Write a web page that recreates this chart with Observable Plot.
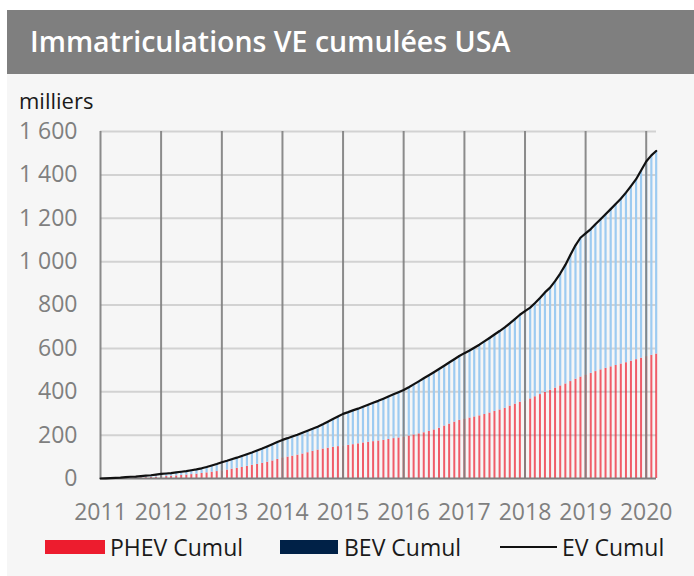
<!DOCTYPE html>
<html><head><meta charset="utf-8">
<script src="https://cdn.jsdelivr.net/npm/d3@7"></script>
<script src="https://cdn.jsdelivr.net/npm/@observablehq/plot@0.6"></script>
<style>
body{margin:0;background:#fff;font-family:"Open Sans",sans-serif;}
#wrap{position:relative;width:694px;height:576px;overflow:hidden;}
#panel{position:absolute;left:7px;top:10px;width:687px;height:566px;background:#f6f6f6;}
#title{position:absolute;left:7px;top:10px;width:687px;height:64px;background:#7f7f7f;color:#fff;font-size:28.5px;font-weight:600;line-height:62px;padding-left:23px;box-sizing:border-box;white-space:nowrap;}
#unit{position:absolute;left:19px;top:85px;font-size:22px;color:#1a1a1a;}
#chart{position:absolute;left:0;top:110px;}
.lg{position:absolute;top:532px;font-size:23px;color:#1a1a1a;line-height:30px;white-space:nowrap;}
.sw{position:absolute;top:540px;height:14px;}
.ln{position:absolute;top:546px;height:2px;background:#111;}
</style></head>
<body>
<div id="wrap">
  <div id="panel"></div>
  <div id="title">Immatriculations VE cumulées USA</div>
  <div id="unit">milliers</div>
  <div id="chart"></div>
  <div class="sw" style="left:45px;width:60px;background:#ed1c2e"></div>
  <div class="lg" style="left:110px">PHEV Cumul</div>
  <div class="sw" style="left:280px;width:58px;background:#002147"></div>
  <div class="lg" style="left:344px">BEV Cumul</div>
  <div class="ln" style="left:500px;width:57px"></div>
  <div class="lg" style="left:562px">EV Cumul</div>
</div>
<script>
// Monthly data, Jan 2011 .. Mar 2020 (thousands)
const startYear = 2011;
const phevCumul = [
  0, 0, 0.2, 0.5, 1, 1.5, 2, 2.5, 3, 4, 5, 6.5,
  8, 9, 10.5, 12, 14, 16, 18, 20, 23, 26, 29, 32,
  35, 39, 43, 47, 51, 56, 61, 65, 70, 75, 81, 88,
  95, 99, 103, 108, 113, 119, 125, 131, 136, 140, 144, 147,
  150, 153, 156, 160, 164, 167, 170, 173, 176, 180, 184, 187,
  191, 196, 201, 206, 211, 217, 224, 232, 242, 251, 260, 268,
  274, 279, 284, 289, 295, 302, 309, 316, 324, 334, 343, 352,
  357, 367, 377, 387, 397, 407, 417, 427, 436, 447, 458, 468,
  477, 485, 493, 501, 508, 515, 521, 528, 534, 541, 548, 555,
  562, 568, 574
];
const evCumul = [
  0, 1, 2, 3, 4, 6, 8, 9, 11, 13, 15, 18,
  21, 23, 25, 28, 31, 34, 38, 42, 47, 53, 60, 67,
  75, 82, 89, 96, 104, 112, 120, 129, 138, 148, 158, 168,
  178, 186, 194, 202, 211, 220, 229, 239, 250, 262, 274, 286,
  298, 306, 314, 322, 331, 340, 349, 358, 368, 378, 388, 398,
  408, 421, 434, 448, 462, 476, 490, 505, 520, 535, 550, 565,
  578, 590, 603, 617, 632, 648, 664, 680, 697, 715, 735, 755,
  772, 788, 808, 832, 858, 880, 910, 945, 985, 1030, 1075, 1110,
  1130, 1150, 1172, 1195, 1218, 1242, 1266, 1290, 1318, 1348, 1380, 1420,
  1462, 1490, 1510
];
const yearTicks = [2011, 2012, 2013, 2014, 2015, 2016, 2017, 2018, 2019, 2020];
const yTicks = [0, 200, 400, 600, 800, 1000, 1200, 1400, 1600];

const rows = phevCumul.map((p, i) => ({
  date: new Date(Date.UTC(startYear, i, 1)),
  phev: p,
  ev: evCumul[i]
}));
const yearDates = yearTicks.map(y => new Date(Date.UTC(y, 0, 1)));
const fr = d3.formatLocale({decimal: ",", thousands: " ", grouping: [3], currency: ["", " €"]});
const fmt = fr.format(",d");

const chart = Plot.plot({
  width: 694,
  height: 420,
  marginLeft: 100,
  marginRight: 38,
  marginTop: 21,
  marginBottom: 52,
  style: {background: "transparent", color: "#7f7f7f", fontFamily: "Open Sans, sans-serif"},
  x: {type: "utc", domain: [new Date(Date.UTC(2011, 0, 1)), new Date(Date.UTC(2020, 2, 3))]},
  y: {domain: [0, 1600]},
  marks: [
    Plot.ruleY(yTicks.filter(d => d > 0), {stroke: "#d2d2d2", strokeWidth: 2}),
    Plot.ruleX(rows, {x: "date", y1: 0, y2: "phev", stroke: "#ee2a3a", strokeWidth: 2, strokeOpacity: 0.75}),
    Plot.ruleX(rows, {x: "date", y1: "phev", y2: "ev", stroke: "#9dcbf1", strokeWidth: 2.2}),
    Plot.ruleX(yearDates, {stroke: "#7f7f7f", strokeWidth: 2, strokeOpacity: 0.9}),
    Plot.ruleY([0], {stroke: "#7f7f7f", strokeWidth: 2}),
    Plot.lineY(rows, {x: "date", y: "ev", stroke: "#111", strokeWidth: 2.2}),
    Plot.axisY({ticks: yTicks, tickFormat: fmt, tickSize: 0, tickPadding: 23, fontSize: 23, label: null, fill: "#7f7f7f"}),
    Plot.axisX({ticks: yearDates, tickFormat: d3.utcFormat("%Y"), tickSize: 0, tickPadding: 25, fontSize: 23, label: null, fill: "#7f7f7f"})
  ]
});
document.getElementById("chart").appendChild(chart);
</script>
</body></html>
